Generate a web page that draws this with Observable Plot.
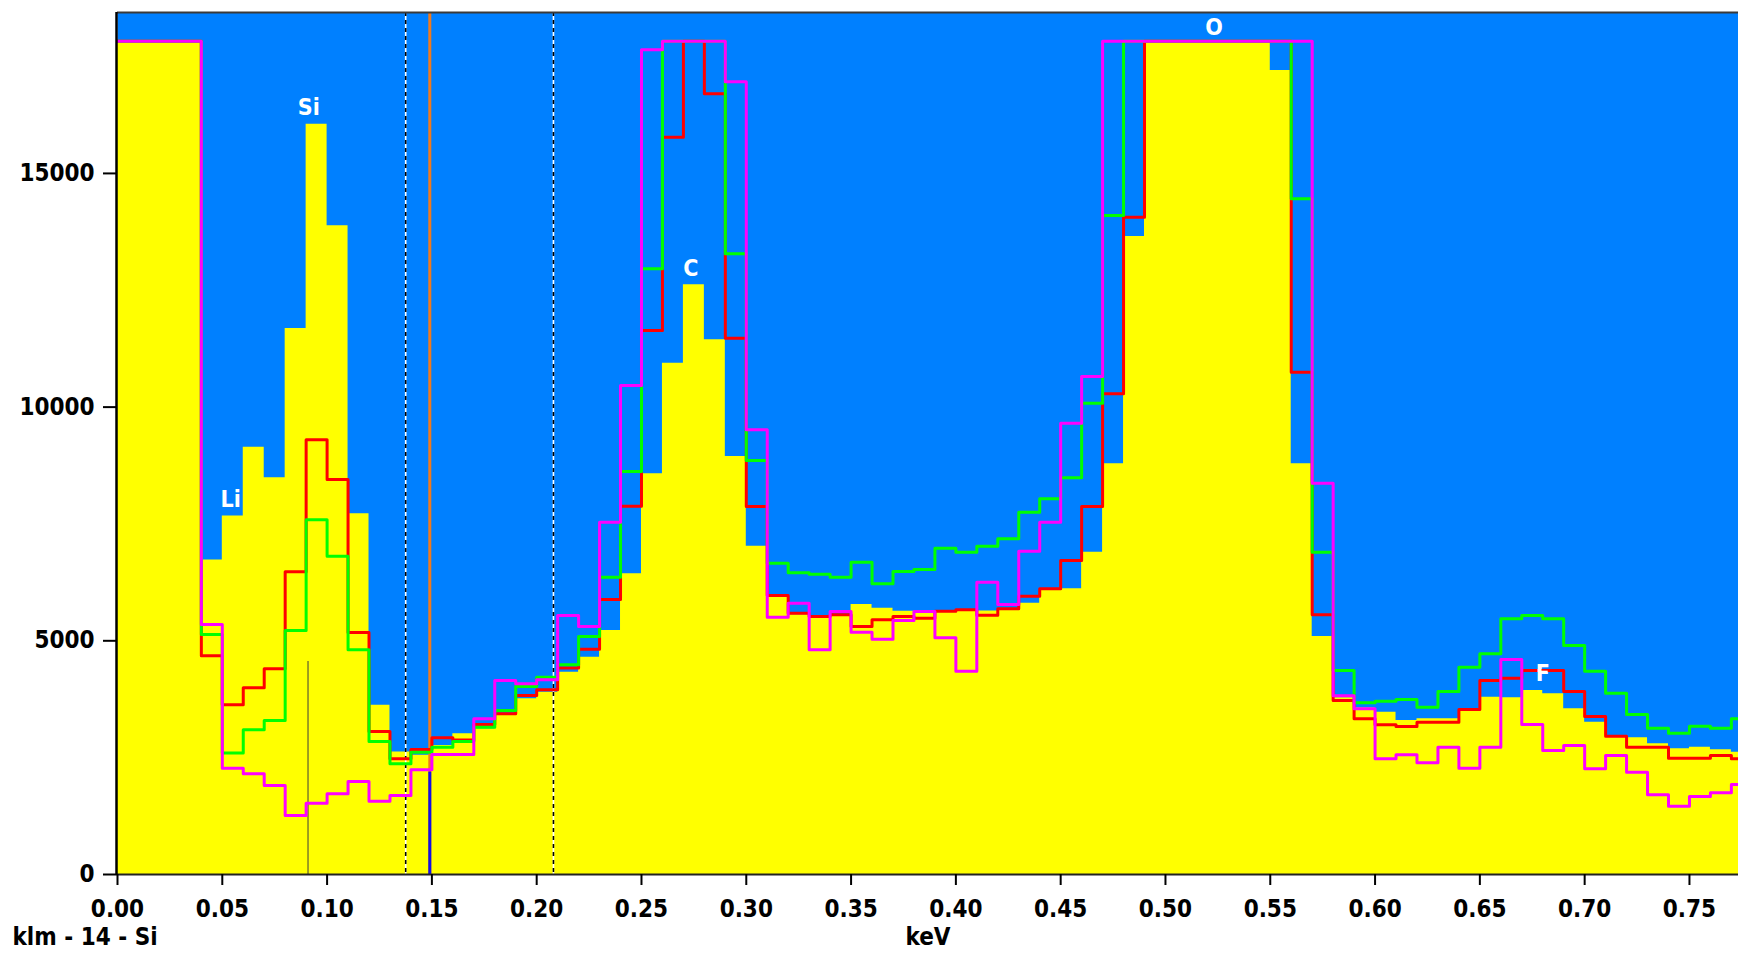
<!DOCTYPE html>
<html><head><meta charset="utf-8">
<script src="https://cdn.jsdelivr.net/npm/d3@7"></script>
<script src="https://cdn.jsdelivr.net/npm/@observablehq/plot@0.6"></script>
<style>
html,body{margin:0;padding:0;background:#fff;}
#chart{width:1738px;height:953px;overflow:hidden;}
</style></head><body><div id="chart"></div>
<script>
// Display ceiling of the spectrum window: counts that saturate are drawn here
const S = 17830;

// Channel start energies (keV), channel width 0.01 keV
const binStart = [0.00,0.01,0.02,0.03,0.04,0.05,0.06,0.07,0.08,0.09,
  0.10,0.11,0.12,0.13,0.14,0.15,0.16,0.17,0.18,0.19,
  0.20,0.21,0.22,0.23,0.24,0.25,0.26,0.27,0.28,0.29,
  0.30,0.31,0.32,0.33,0.34,0.35,0.36,0.37,0.38,0.39,
  0.40,0.41,0.42,0.43,0.44,0.45,0.46,0.47,0.48,0.49,
  0.50,0.51,0.52,0.53,0.54,0.55,0.56,0.57,0.58,0.59,
  0.60,0.61,0.62,0.63,0.64,0.65,0.66,0.67,0.68,0.69,
  0.70,0.71,0.72,0.73,0.74,0.75,0.76,0.77];
const binWidth = 0.01;

// Filled (yellow) spectrum
const yellowCounts = [S,S,S,S,6730,7670,9140,8490,11680,16050,
  13880,7720,3620,2620,2550,2760,3010,3117,3402,3758,
  3901,4329,4650,5220,6433,8572,10939,12616,11439,8943,
  7025,5950,5560,5510,5540,5777,5698,5630,5600,5620,
  5648,5640,5690,5805,6100,6112,6896,8786,13650,S,
  S,S,S,S,S,17200,8786,5092,3780,3560,
  3473,3295,3330,3330,3509,3794,3780,3937,3865,3544,
  3259,2950,2924,2795,2689,2724,2667,2617];
// Overlaid spectra (step outlines)
const redCounts = [S,S,S,S,4680,3630,3995,4400,6480,9300,
  8450,5180,3060,2475,2674,2924,2880,3209,3438,3830,
  3951,4420,4821,5884,7880,11640,15775,S,16702,11474,
  7873,5969,5591,5520,5556,5306,5449,5520,5484,5634,
  5663,5548,5684,5955,6112,6718,7873,10284,14063,S,
  S,S,S,S,S,S,10747,5556,3723,3330,
  3202,3166,3259,3259,3530,4151,4201,4365,4365,3915,
  3380,2960,2724,2724,2489,2489,2546,2475];
const greenCounts = [S,S,S,S,5135,2600,3095,3295,5220,7590,
  6810,4807,2846,2368,2617,2720,2846,3152,3509,4022,
  4222,4486,5092,6362,8622,12958,S,S,S,13280,
  8857,6661,6454,6425,6362,6683,6219,6483,6525,6982,
  6896,7025,7182,7752,8037,8487,10084,14099,S,S,
  S,S,S,S,S,S,14456,6896,4364,3673,
  3709,3744,3580,3915,4436,4721,5470,5541,5470,4899,
  4350,3880,3423,3131,3024,3174,3131,3330];
const magentaCounts = [S,S,S,S,5350,2275,2155,1905,1262,1526,
  1726,1990,1569,1690,2239,2567,2567,3330,4151,4079,
  4165,5541,5306,7538,10462,17644,S,S,S,16959,
  9514,5506,5805,4807,5627,5185,5035,5434,5627,5063,
  4350,6254,5777,6918,7538,9656,10655,S,S,S,
  S,S,S,S,S,S,S,8372,3823,3544,
  2475,2561,2389,2724,2275,2724,4600,3209,2653,2760,
  2261,2546,2189,1705,1462,1669,1747,1926];

// Axis ticks
const xTicks = [0.00,0.05,0.10,0.15,0.20,0.25,0.30,0.35,0.40,0.45,0.50,0.55,0.60,0.65,0.70,0.75];
const yTicks = [0,5000,10000,15000];

// Element peak labels
const peakLabels = ["Li","Si","C","O","F"];
const peakEnergy = [0.054,0.0913,0.2736,0.5232,0.680];
const peakLabelCounts = [8025,16400,12955,18130,4294];

// Markers
const regionBounds = [0.1375,0.208];   // dashed ROI limits
const cursorEnergy = [0.149];          // orange cursor
const cursorCounts = [2190];           // blue cursor bar height
const klmEnergy = [0.0909];            // Si KLM marker
const klmCounts = [4557];

const caption = "klm - 14 - Si";
const xLabel = "keV";

const xMax = 0.7734, yMax = 18443;

function steps(vals) {
  const pts = binStart.map((x, i) => ({x, y: vals[i]}));
  pts.push({x: binStart[binStart.length - 1] + binWidth, y: vals[vals.length - 1]});
  return pts;
}

const FONT = "'DejaVu Sans Condensed', 'DejaVu Sans', sans-serif";

const chart = Plot.plot({
  width: 1738,
  height: 953,
  marginLeft: 117,
  marginRight: 0,
  marginTop: 12,
  marginBottom: 79,
  x: {domain: [0, xMax]},
  y: {domain: [0, yMax]},
  style: {fontFamily: FONT, fontWeight: "bold", fontSize: "24px", color: "#000", background: "#fff", overflow: "hidden"},
  marks: [
    Plot.frame({fill: "#0080ff", stroke: null}),
    Plot.areaY(steps(yellowCounts), {x: "x", y: "y", curve: "step-after", fill: "#ffff00", clip: true}),
    Plot.ruleX(klmEnergy, {x: d => d, y1: 0, y2: (d, i) => klmCounts[i], stroke: "#7d7d28", strokeWidth: 1.5}),
    Plot.ruleX(cursorEnergy, {stroke: "#f07a1e", strokeWidth: 3}),
    Plot.ruleX(regionBounds, {stroke: "#ffffff", strokeWidth: 1.6}),
    Plot.ruleX(regionBounds, {stroke: "#000000", strokeWidth: 1.6, strokeDasharray: "4,4"}),
    Plot.line(steps(redCounts), {x: "x", y: "y", curve: "step-after", stroke: "#ff0000", strokeWidth: 3, clip: true}),
    Plot.line(steps(greenCounts), {x: "x", y: "y", curve: "step-after", stroke: "#00ff00", strokeWidth: 3, clip: true}),
    Plot.line(steps(magentaCounts), {x: "x", y: "y", curve: "step-after", stroke: "#ff00ff", strokeWidth: 3, clip: true}),
    Plot.ruleX(cursorEnergy, {x: d => d, y1: 0, y2: (d, i) => cursorCounts[i], stroke: "#1010e8", strokeWidth: 3}),
    Plot.text(peakLabels, {x: (d, i) => peakEnergy[i], y: (d, i) => peakLabelCounts[i], text: d => d, fill: "#ffffff", fontSize: 23, fontWeight: "bold"}),
    Plot.ruleY([yMax], {stroke: "#3a3a3a", strokeWidth: 2}),
    Plot.ruleY([0], {stroke: "#222", strokeWidth: 2}),
    Plot.ruleX([0], {stroke: "#000", strokeWidth: 2.5, dx: -1}),
    Plot.axisX({ticks: xTicks, tickFormat: d => d.toFixed(2), tickSize: 11, tickPadding: 14, label: null, stroke: "#000", strokeWidth: 2, fill: "#000"}),
    Plot.axisY({ticks: yTicks, tickFormat: d => String(d), tickSize: 14, tickPadding: 9, label: null, stroke: "#000", strokeWidth: 2, fill: "#000"}),
    Plot.text([xLabel], {frameAnchor: "bottom", lineAnchor: "middle", dy: 63, text: d => d, fill: "#000", fontSize: 24, fontWeight: "bold"}),
    Plot.text([caption], {frameAnchor: "bottom-left", lineAnchor: "middle", dx: -105, dy: 63, textAnchor: "start", text: d => d, fill: "#000", fontSize: 24, fontWeight: "bold"})
  ]
});
document.getElementById("chart").appendChild(chart);
</script>
</body></html>
